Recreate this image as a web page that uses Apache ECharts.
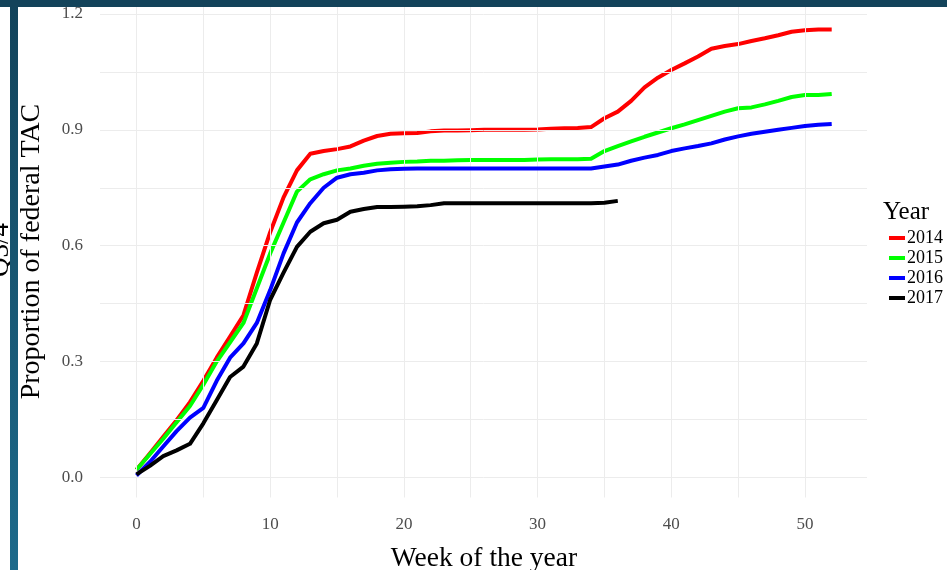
<!DOCTYPE html>
<html>
<head>
<meta charset="utf-8">
<script src="https://cdn.jsdelivr.net/npm/echarts@6/dist/echarts.min.js"></script>
<style>
  html, body { margin: 0; padding: 0; background: #ffffff; }
  #chart { width: 947px; height: 570px; }
</style>
</head>
<body>
<div id="chart"></div>
<script>
// Week of the year
const weeks = [0,1,2,3,4,5,6,7,8,9,10,11,12,13,14,15,16,17,18,19,20,21,22,23,24,25,26,
               27,28,29,30,31,32,33,34,35,36,37,38,39,40,41,42,43,44,45,46,47,48,49,50,51,52];

// Cumulative proportion of federal TAC landed, by week
const y2014 = [0.020,0.062,0.105,0.148,0.195,0.250,0.310,0.365,0.420,0.530,0.635,0.725,0.795,0.838,
               0.845,0.850,0.857,0.872,0.884,0.890,0.891,0.892,0.896,0.898,0.898,0.899,0.900,0.900,
               0.900,0.900,0.901,0.903,0.904,0.905,0.907,0.930,0.947,0.975,1.010,1.035,1.055,1.072,
               1.090,1.110,1.117,1.122,1.130,1.137,1.145,1.154,1.158,1.160,1.160];
const y2015 = [0.020,0.060,0.100,0.143,0.185,0.240,0.300,0.350,0.400,0.490,0.580,0.660,0.740,0.772,
               0.785,0.795,0.800,0.807,0.812,0.815,0.817,0.818,0.820,0.820,0.821,0.822,0.822,0.822,
               0.822,0.822,0.823,0.824,0.824,0.824,0.825,0.845,0.858,0.870,0.882,0.893,0.904,0.914,
               0.925,0.936,0.947,0.956,0.958,0.966,0.975,0.985,0.990,0.990,0.993];
const y2016 = [0.005,0.040,0.080,0.120,0.155,0.180,0.250,0.310,0.347,0.400,0.485,0.580,0.660,0.710,
               0.750,0.776,0.785,0.789,0.795,0.798,0.799,0.800,0.800,0.800,0.800,0.800,0.800,0.800,
               0.800,0.800,0.800,0.800,0.800,0.800,0.800,0.805,0.810,0.820,0.828,0.835,0.845,0.852,
               0.858,0.865,0.875,0.883,0.890,0.895,0.900,0.905,0.910,0.913,0.915];
const y2017 = [0.008,0.030,0.055,0.070,0.087,0.140,0.200,0.260,0.287,0.347,0.460,0.530,0.597,0.636,
               0.658,0.667,0.688,0.695,0.700,0.700,0.701,0.702,0.705,0.710,0.710,0.710,0.710,0.710,
               0.710,0.710,0.710,0.710,0.710,0.710,0.710,0.711,0.716];

const years = ['2014', '2015', '2016', '2017'];
const yearColors = ['#ff0000', '#00ff00', '#0000ff', '#000000'];
const yearValues = [y2014, y2015, y2016, y2017];

// Tick labels and grid breaks
const xTicks = [0, 10, 20, 30, 40, 50];
const yTicks = [0, 0.3, 0.6, 0.9, 1.2];
const xMinor = [5, 15, 25, 35, 45];
const yMinor = [0.15, 0.45, 0.75, 1.05];

const SERIF = '"Liberation Serif", "Times New Roman", serif';
const GRID_COL = '#ececec';

const pairs = (vals) => vals.map((v, i) => [weeks[i], v]);

const gridLines = [];
xTicks.concat(xMinor).forEach(v => gridLines.push({ xAxis: v }));
yTicks.concat(yMinor).forEach(v => gridLines.push({ yAxis: v }));

const series = [{
  type: 'line',
  data: [],
  z: 1,
  silent: true,
  markLine: {
    silent: true,
    symbol: ['none', 'none'],
    label: { show: false },
    lineStyle: { color: GRID_COL, width: 1, type: 'solid' },
    emphasis: { disabled: true },
    animation: false,
    data: gridLines
  }
}];

years.forEach((name, i) => {
  series.push({
    name: name,
    type: 'line',
    data: pairs(yearValues[i]),
    showSymbol: false,
    smooth: false,
    z: 3 + i,
    color: yearColors[i],
    lineStyle: { color: yearColors[i], width: 4, cap: 'butt', join: 'round' }
  });
});

const chart = echarts.init(document.getElementById('chart'), null, { renderer: 'canvas' });

chart.setOption({
  animation: false,
  backgroundColor: '#ffffff',
  grid: { left: 100, right: 80, top: 7, bottom: 72.5, containLabel: false },
  xAxis: {
    type: 'value',
    min: -2.73,
    max: 54.64,
    axisLine: { show: false },
    axisTick: { show: false },
    splitLine: { show: false },
    axisLabel: {
      customValues: xTicks,
      color: '#4d4d4d',
      fontFamily: SERIF,
      fontSize: 17,
      margin: 19
    }
  },
  yAxis: {
    type: 'value',
    min: -0.052,
    max: 1.218,
    axisLine: { show: false },
    axisTick: { show: false },
    splitLine: { show: false },
    axisLabel: {
      customValues: yTicks,
      formatter: v => v.toFixed(1),
      color: '#4d4d4d',
      fontFamily: SERIF,
      fontSize: 17,
      margin: 17
    }
  },
  legend: {
    data: years,
    orient: 'vertical',
    left: 884,
    top: 223,
    itemWidth: 16,
    itemHeight: 4,
    itemGap: 0,
    icon: 'rect',
    selectedMode: false,
    textStyle: { fontFamily: SERIF, fontSize: 18, color: '#000000', lineHeight: 20, padding: [0, 0, 0, -3] }
  },
  graphic: [
    {
      type: 'text', left: 883, top: 200,
      style: { text: 'Year', font: '25px ' + SERIF, fill: '#000000' }
    },
    {
      type: 'text', x: 484, y: 559,
      style: { text: 'Week of the year', font: '27.5px ' + SERIF, fill: '#000000', align: 'center', verticalAlign: 'middle' }
    },
    {
      type: 'text', x: 32, y: 251.5, rotation: Math.PI / 2,
      style: { text: 'Proportion of federal TAC', font: '28px ' + SERIF, fill: '#000000', align: 'center', verticalAlign: 'middle' }
    },
    {
      type: 'text', x: 1, y: 250, rotation: Math.PI / 2,
      style: { text: 'Q3/4', font: '27px ' + SERIF, fill: '#000000', align: 'center', verticalAlign: 'middle' }
    },
    {
      type: 'rect', shape: { x: 10, y: 0, width: 8, height: 570 }, z: 100,
      style: {
        fill: new echarts.graphic.LinearGradient(0, 0, 0, 1, [
          { offset: 0, color: '#12435a' },
          { offset: 1, color: '#1d6a8b' }
        ])
      }
    },
    {
      type: 'rect', shape: { x: 0, y: 0, width: 947, height: 7 }, z: 100,
      style: { fill: '#13435a' }
    }
  ],
  series: series
});
</script>
</body>
</html>
